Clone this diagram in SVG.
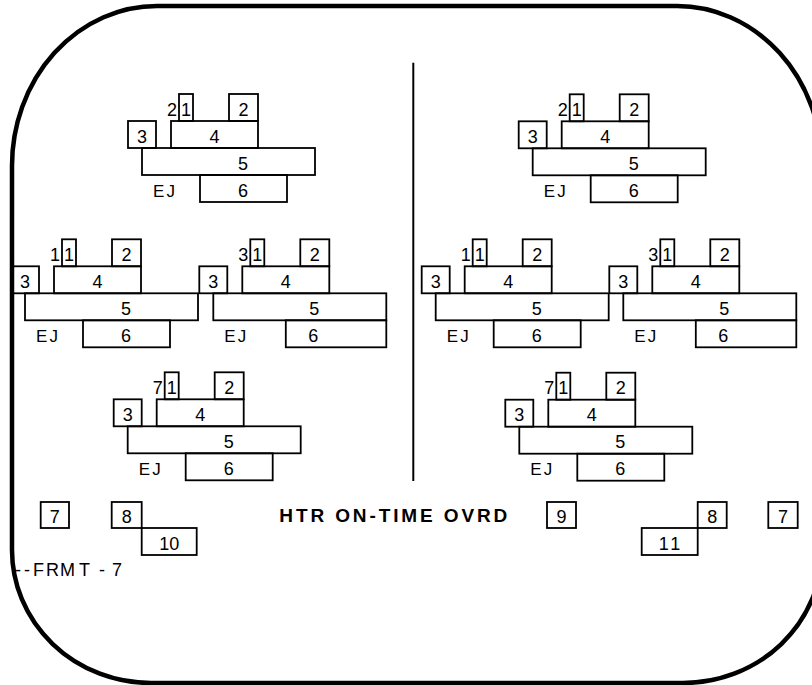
<svg xmlns="http://www.w3.org/2000/svg" width="812" height="685" viewBox="0 0 812 685">
<style>
.b{fill:none;stroke:#000;stroke-width:1.8}
text{font-family:"Liberation Sans",Arial,sans-serif;font-size:18px;fill:#000}
.c{text-anchor:middle}
.e{text-anchor:end}
.ej{font-size:17px}
.title{font-weight:bold;font-size:19px}
.frame{fill:none;stroke:#000;stroke-width:4.5}
.div{stroke:#000;stroke-width:2}
</style>
<defs>
<g id="top">
<rect class="b" x="-14" y="-27" width="28" height="27"/><text class="c" x="0" y="-5.5">3</text>
<rect class="b" x="29" y="-27" width="87" height="27"/><text class="c" x="72.5" y="-5.5">4</text>
<rect class="b" x="37" y="-54" width="14" height="27"/><text class="c" x="44" y="-32.5">1</text>
<rect class="b" x="87" y="-54" width="29" height="27"/><text class="c" x="101.5" y="-32.5">2</text>
<rect class="b" x="0" y="0" width="173" height="27"/><text class="c" x="101" y="21.5">5</text>
<text class="ej" x="11" y="48.5" textLength="22" lengthAdjust="spacing">EJ</text>
</g>
</defs>
<rect width="812" height="685" fill="#fff"/>
<path class="frame" d="M157,6 H677 A145,160 0 0 1 822,166 V550 A139,133 0 0 1 683,683 H151 A139,133 0 0 1 12,550 V166 A145,160 0 0 1 157,6 Z"/>
<g id="connectors">
<line class="div" x1="413.3" y1="62.7" x2="413.3" y2="481"/>
</g>

<g id="L1" transform="translate(142,148)">
<use href="#top"/>
<text class="e" x="35" y="-32.5">2</text>
<rect class="b" x="58" y="27" width="87" height="27"/><text class="c" x="101" y="48.5">6</text>
</g>

<g id="L2" transform="translate(25,293.3)">
<use href="#top"/>
<text class="e" x="35" y="-32.5">1</text>
<rect class="b" x="58" y="27" width="87" height="27"/><text class="c" x="101" y="48.5">6</text>
</g>

<g id="L3" transform="translate(213.3,293.3)">
<use href="#top"/>
<text class="e" x="35" y="-32.5">3</text>
<rect class="b" x="72.5" y="27" width="100.5" height="27"/><text class="c" x="100" y="48.5">6</text>
</g>

<g id="L4" transform="translate(127.7,426.3)">
<use href="#top"/>
<text class="e" x="35" y="-32.5">7</text>
<rect class="b" x="58" y="27" width="87" height="27"/><text class="c" x="101" y="48.5">6</text>
</g>

<g id="R1" transform="translate(532.7,148.3)">
<use href="#top"/>
<text class="e" x="35" y="-32.5">2</text>
<rect class="b" x="58" y="27" width="87" height="27"/><text class="c" x="101" y="48.5">6</text>
</g>

<g id="R2" transform="translate(435.7,293.3)">
<use href="#top"/>
<text class="e" x="35" y="-32.5">1</text>
<rect class="b" x="58" y="27" width="87" height="27"/><text class="c" x="101" y="48.5">6</text>
</g>

<g id="R3" transform="translate(623.3,293.3)">
<use href="#top"/>
<text class="e" x="35" y="-32.5">3</text>
<rect class="b" x="72.5" y="27" width="100.5" height="27"/><text class="c" x="100" y="48.5">6</text>
</g>

<g id="R4" transform="translate(519.3,426.7)">
<use href="#top"/>
<text class="e" x="35" y="-32.5">7</text>
<rect class="b" x="58" y="27" width="87" height="27"/><text class="c" x="101" y="48.5">6</text>
</g>

<g id="box7L"><rect class="b" x="40.7" y="502" width="28.3" height="26"/><text class="c" x="54.8" y="522.5">7</text></g>
<g id="box8L"><rect class="b" x="111.7" y="502" width="30" height="26"/><text class="c" x="126.7" y="522.5">8</text></g>
<g id="box10"><rect class="b" x="141.7" y="528" width="55" height="27"/><text class="c" x="169.2" y="549.5">10</text></g>
<g id="title"><text class="title" x="279.3" y="522" textLength="228" lengthAdjust="spacing">HTR ON-TIME OVRD</text></g>
<g id="box9"><rect class="b" x="547" y="502" width="29" height="26"/><text class="c" x="561.5" y="522.5">9</text></g>
<g id="box11"><rect class="b" x="641.7" y="528" width="56" height="27"/><text class="c" x="671" y="549.5" letter-spacing="3">11</text></g>
<g id="box8R"><rect class="b" x="697.7" y="502" width="29" height="26"/><text class="c" x="712.2" y="522.5">8</text></g>
<g id="box7R"><rect class="b" x="768.3" y="502" width="29.4" height="26"/><text class="c" x="783" y="522.5">7</text></g>
<g id="frmt"><text x="15 24 33 46 60 79 99 112" y="575.7">--FRMT-7</text></g>
</svg>
